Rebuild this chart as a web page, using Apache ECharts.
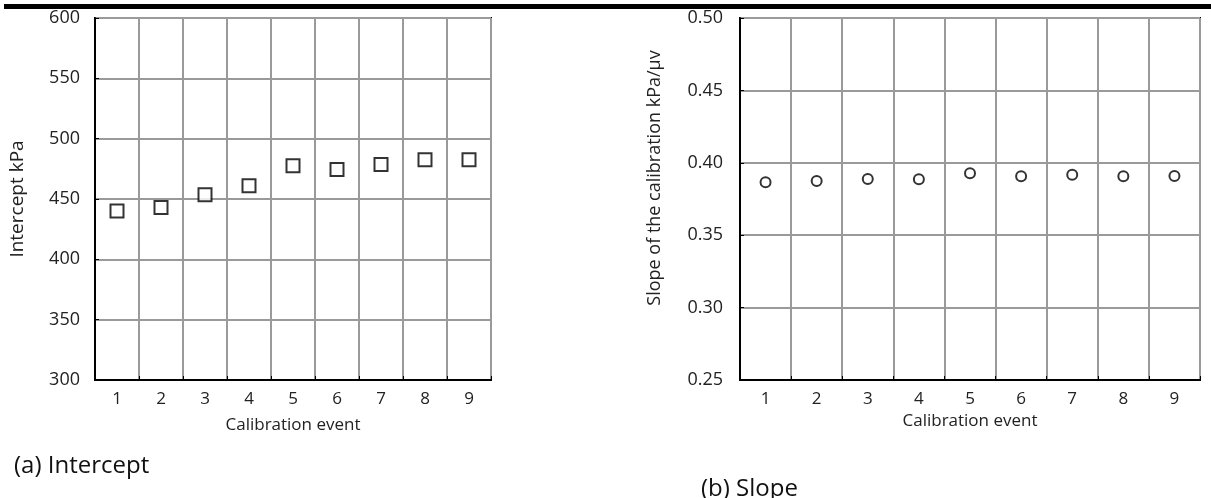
<!DOCTYPE html>
<html>
<head>
<meta charset="utf-8">
<script src="https://cdn.jsdelivr.net/npm/echarts@6/dist/echarts.min.js"></script>
<style>
  html, body { margin: 0; padding: 0; background: #fff; }
  #chart { width: 1211px; height: 498px; }
</style>
</head>
<body>
<div id="chart"></div>
<script>
// calibration events 1..9
const events = ['1', '2', '3', '4', '5', '6', '7', '8', '9']
// (a) intercept, kPa
const intercept = [440, 443, 453.5, 461, 477.5, 474.5, 478.5, 482.5, 482.5]
// (b) slope, kPa/μv
const slope = [0.3865, 0.3875, 0.3888, 0.3887, 0.3928, 0.3907, 0.3918, 0.3907, 0.3909]

let myChart = echarts.init(document.getElementById('chart'))

const font = 'Open Sans'
const gridLine = { show: true, lineStyle: { color: '#9a9a9a', width: 2 } }

const xAxisBase = {
  type: 'category',
  data: events,
  boundaryGap: true,
  name: 'Calibration event',
  nameLocation: 'middle',
  nameGap: 37,
  nameTextStyle: { color: '#222', fontSize: 17, fontFamily: font },
  axisLine: { lineStyle: { color: '#000', width: 2 } },
  axisTick: { show: true, inside: true, length: 4, lineStyle: { color: '#000' } },
  axisLabel: { color: '#222', fontSize: 17, fontFamily: font, margin: 11 },
  splitLine: gridLine
}

const yAxisBase = {
  type: 'value',
  nameLocation: 'middle',
  nameTextStyle: { color: '#222', fontSize: 18, fontFamily: font },
  axisLine: { show: true, lineStyle: { color: '#000', width: 2 } },
  axisTick: { show: true, inside: true, length: 4, lineStyle: { color: '#000' } },
  axisLabel: { color: '#222', fontSize: 18, fontFamily: font, margin: 15 },
  splitLine: gridLine
}

let option = {
  animation: false,
  title: [
    { text: '(a) Intercept', left: 9, top: 449, textStyle: { fontSize: 24, fontWeight: 'normal', color: '#111', fontFamily: font } },
    { text: '(b) Slope', left: 696, top: 472, textStyle: { fontSize: 24, fontWeight: 'normal', color: '#111', fontFamily: font } }
  ],
  graphic: [
    { type: 'rect', shape: { x: 4, y: 4, width: 1207, height: 5 }, style: { fill: '#000' } }
  ],
  grid: [
    { left: 95, top: 18, width: 396, height: 362, show: true, borderColor: '#000', borderWidth: 2, containLabel: false },
    { left: 740, top: 18, width: 460, height: 362, show: true, borderColor: '#000', borderWidth: 2, containLabel: false }
  ],
  xAxis: [
    Object.assign({}, xAxisBase, { gridIndex: 0 }),
    Object.assign({}, xAxisBase, { gridIndex: 1, nameGap: 31 })
  ],
  yAxis: [
    Object.assign({}, yAxisBase, {
      gridIndex: 0, min: 300, max: 600, interval: 50,
      name: 'Intercept kPa', nameGap: 68,
      nameTextStyle: Object.assign({}, yAxisBase.nameTextStyle, { fontSize: 19 })
    }),
    Object.assign({}, yAxisBase, {
      gridIndex: 1, min: 0.25, max: 0.5, interval: 0.05,
      name: 'Slope of the calibration kPa/μv', nameGap: 76,
      nameTextStyle: Object.assign({}, yAxisBase.nameTextStyle, { padding: [0, 0, 0, 42] }),
      axisLabel: Object.assign({}, yAxisBase.axisLabel, {
        margin: 17,
        formatter: function (v) { return v.toFixed(2) }
      })
    })
  ],
  series: [
    {
      name: 'Intercept',
      type: 'scatter',
      xAxisIndex: 0,
      yAxisIndex: 0,
      data: intercept,
      symbol: 'rect',
      symbolSize: 13,
      itemStyle: { color: '#fff', borderColor: '#000', borderWidth: 2 }
    },
    {
      name: 'Slope',
      type: 'scatter',
      xAxisIndex: 1,
      yAxisIndex: 1,
      data: slope,
      symbol: 'circle',
      symbolSize: 10,
      itemStyle: { color: '#fff', borderColor: '#000', borderWidth: 2 }
    }
  ]
}

myChart.setOption(option)
window.addEventListener('resize', function () {
  myChart.resize()
})
</script>
</body>
</html>
